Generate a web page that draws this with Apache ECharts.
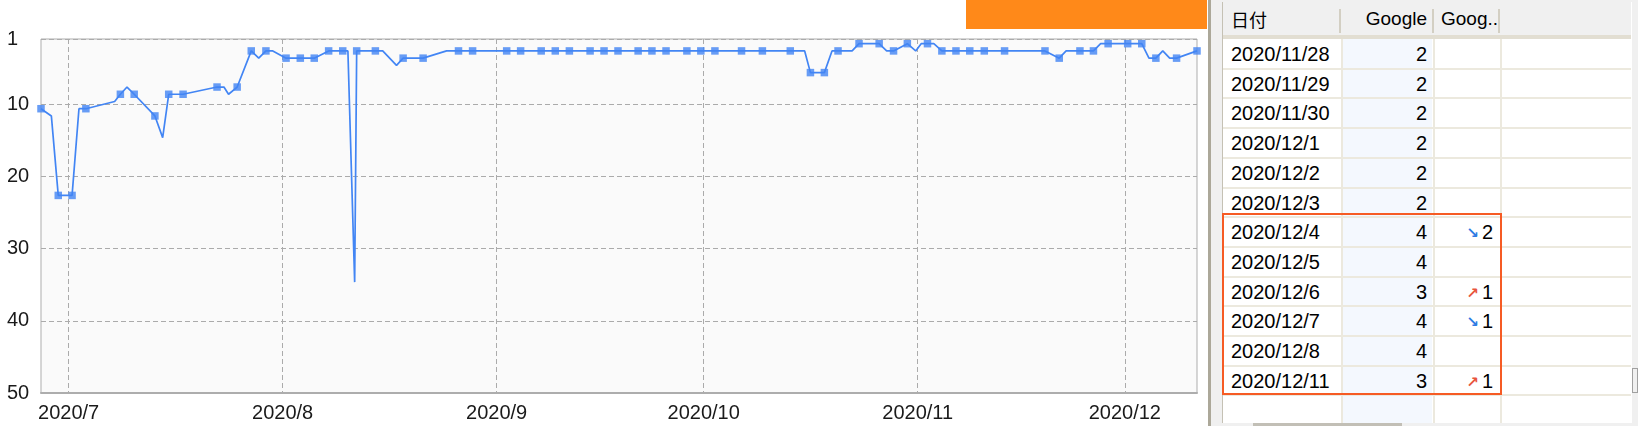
<!DOCTYPE html>
<html><head><meta charset="utf-8">
<script src="https://cdn.jsdelivr.net/npm/echarts@6/dist/echarts.min.js"></script>
<style>
html,body{margin:0;padding:0;background:#fff;width:1638px;height:426px;overflow:hidden;font-family:"Liberation Sans",Arial,sans-serif;}
#chart{position:absolute;left:0;top:0;width:1208px;height:426px;}
.abs{position:absolute;}
</style></head><body>
<div id="chart"></div>
<div id="side"></div>
<script>
// ---- chart data (rank per check time; default check time 12:00) ----
const dates = [
 '2020-06-27 00:00','2020-06-28','2020-06-29','2020-07-01','2020-07-02','2020-07-03','2020-07-07 16:00','2020-07-08',
 '2020-07-09 11:00','2020-07-10','2020-07-13','2020-07-14 15:00','2020-07-15','2020-07-17 14:00','2020-07-22','2020-07-23',
 '2020-07-24 04:00','2020-07-25 10:00','2020-07-27 11:00','2020-07-28 13:00','2020-07-29 14:00','2020-07-30 14:00','2020-08-01',
 '2020-08-03 13:30','2020-08-05 14:00','2020-08-07 16:00','2020-08-09 17:00','2020-08-10 11:00','2020-08-11 10:30','2020-08-11 17:30',
 '2020-08-14 10:30','2020-08-15','2020-08-17','2020-08-18 11:00','2020-08-21 08:30','2020-08-24 18:00','2020-08-26 11:30','2020-08-28 12:30',
 '2020-09-02 11:00','2020-09-04 11:30','2020-09-07 11:00','2020-09-09','2020-09-11 13:00','2020-09-14 13:00','2020-09-16 13:30',
 '2020-09-18 14:00','2020-09-21','2020-09-23','2020-09-25 13:00','2020-09-28 13:30','2020-09-30 14:00','2020-10-02 15:00',
 '2020-10-06 11:30','2020-10-09','2020-10-13 13:00','2020-10-15 15:00','2020-10-16 11:00','2020-10-18 11:30','2020-10-19 14:00',
 '2020-10-20 11:00','2020-10-22','2020-10-23','2020-10-26 10:00','2020-10-27','2020-10-28','2020-10-30','2020-10-31 17:00',
 '2020-11-01','2020-11-02 10:00','2020-11-03 08:00','2020-11-04','2020-11-06 13:00','2020-11-08 13:00','2020-11-10 15:30',
 '2020-11-13 14:00','2020-11-19 10:30','2020-11-21','2020-11-22','2020-11-24','2020-11-26 11:00','2020-11-27','2020-11-28 14:00',
 '2020-11-29','2020-11-30','2020-12-01 10:00','2020-12-02','2020-12-03 11:00','2020-12-04','2020-12-05','2020-12-06','2020-12-07',
 '2020-12-08','2020-12-11 11:00'
];
const ranks = [
 11,12,23,23,11,11,10,9,
 8,9,12,15,9,9,8,8,
 9,8,3,4,3,3,4,
 4,4,3,3,3,35,3,
 3,3,5,4,4,3,3,3,
 3,3,3,3,3,3,3,
 3,3,3,3,3,3,3,
 3,3,3,3,6,6,3,
 3,3,2,2,3,3,2,3,
 2,2,2,3,3,3,3,
 3,3,4,3,3,3,2,2,
 2,2,2,2,2,4,4,3,4,
 4,3
];
// check times that are drawn with a square marker
const markedDates = [
 '2020-06-27 00:00','2020-06-29','2020-07-01','2020-07-03','2020-07-08','2020-07-10','2020-07-13','2020-07-15','2020-07-17 14:00',
 '2020-07-22','2020-07-25 10:00','2020-07-27 11:00','2020-07-29 14:00','2020-08-01','2020-08-03 13:30','2020-08-05 14:00',
 '2020-08-07 16:00','2020-08-09 17:00','2020-08-11 17:30','2020-08-14 10:30','2020-08-18 11:00','2020-08-21 08:30',
 '2020-08-26 11:30','2020-08-28 12:30','2020-09-02 11:00','2020-09-04 11:30','2020-09-07 11:00','2020-09-09','2020-09-11 13:00',
 '2020-09-14 13:00','2020-09-16 13:30','2020-09-18 14:00','2020-09-21','2020-09-23','2020-09-25 13:00','2020-09-28 13:30',
 '2020-09-30 14:00','2020-10-02 15:00','2020-10-06 11:30','2020-10-09','2020-10-13 13:00','2020-10-16 11:00','2020-10-18 11:30',
 '2020-10-20 11:00','2020-10-23','2020-10-26 10:00','2020-10-28','2020-10-30','2020-11-02 10:00','2020-11-04','2020-11-06 13:00',
 '2020-11-08 13:00','2020-11-10 15:30','2020-11-13 14:00','2020-11-19 10:30','2020-11-21','2020-11-24','2020-11-26 11:00',
 '2020-11-28 14:00','2020-12-01 10:00','2020-12-03 11:00','2020-12-05','2020-12-08','2020-12-11 11:00'
];
const monthTicks = ['2020-07-01 00:00','2020-08-01 00:00','2020-09-01 00:00','2020-10-01 00:00','2020-11-01 00:00','2020-12-01 00:00'];
const rankTicks = [1,10,20,30,40,50];

// ---- table data ----
const headers = ['日付','Google','Goog..'];
const tableDates = ['2020/11/28','2020/11/29','2020/11/30','2020/12/1','2020/12/2','2020/12/3','2020/12/4','2020/12/5','2020/12/6','2020/12/7','2020/12/8','2020/12/11'];
const tableRanks = [2,2,2,2,2,2,4,4,3,4,4,3];
const tableChangeDir = ['','','','','','','down','','up','down','','up'];
const tableChange = ['','','','','','','2','','1','1','','1'];

function toTime(s){
  const p = s.split(' ');
  const d = p[0].split('-').map(Number);
  let h = 12, m = 0;
  if (p[1]) { const t = p[1].split(':').map(Number); h = t[0]; m = t[1]; }
  return Date.UTC(d[0], d[1]-1, d[2], h, m);
}
const lineData = dates.map((d,i)=>[toTime(d), ranks[i]]);
const markerData = dates.map((d,i)=>[d,i]).filter(x=>markedDates.includes(x[0])).map(x=>[toTime(x[0]), ranks[x[1]]]);
const monthTimes = monthTicks.map(toTime);

const LABEL = {color:'#1a1a1a', fontSize:20, fontFamily:'Liberation Sans, Arial, sans-serif'};
const chart = echarts.init(document.getElementById('chart'), null, {renderer:'canvas'});
chart.setOption({
  animation:false,
  backgroundColor:'#ffffff',
  grid:{left:41, top:39, width:1156, height:354, show:true, backgroundColor:'#FAFAFA', borderColor:'#ADADAD', borderWidth:1},
  xAxis:{
    type:'value', min:toTime(dates[0]), max:toTime(dates[dates.length-1]),
    axisLine:{show:true, onZero:false, lineStyle:{color:'#ADADAD', width:2}},
    axisTick:{show:false, customValues:monthTimes},
    axisLabel:Object.assign({customValues:monthTimes, margin:10, formatter:v=>{const d=new Date(v);return d.getUTCFullYear()+'/'+(d.getUTCMonth()+1);}}, LABEL),
    splitLine:{show:true, lineStyle:{color:'#ABABAB', width:1, type:[5,3]}}
  },
  yAxis:[
    {type:'value', inverse:true, min:1, max:50,
     axisLine:{show:false}, axisTick:{show:false, customValues:rankTicks},
     axisLabel:Object.assign({customValues:rankTicks, align:'left', margin:34}, LABEL),
     splitLine:{show:true, lineStyle:{color:'#ABABAB', width:1, type:[5,3]}}},
    {type:'value', inverse:true, min:1.35, max:50.35, show:false}
  ],
  series:[
    {type:'line', data:lineData, yAxisIndex:1, showSymbol:false, symbol:'none',
     lineStyle:{color:'#4285F4', width:1.7}, z:2},
    {type:'scatter', data:markerData, yAxisIndex:1, symbol:'rect', symbolSize:7.5, clip:false,
     itemStyle:{color:'#4285F4'}, z:3}
  ]
});

// ---- side panel / table ----
const side = document.getElementById('side');
function el(css, html){ const d=document.createElement('div'); d.className='abs'; d.style.cssText=css; if(html!==undefined) d.innerHTML=html; side.appendChild(d); return d; }
el('left:966px;top:0;width:241px;height:29px;background:#FF8919;');
el('left:1208px;top:0;width:3px;height:426px;background:#ACA899;');
el('left:1211px;top:0;width:427px;height:426px;background:#F0F0F0;');
el('left:1222px;top:2px;width:409px;height:421px;background:#fff;border-left:1px solid #C5C1B4;');
// header
el('left:1223px;top:2px;width:408px;height:33px;background:#F0F0F0;');
el('left:1223px;top:35px;width:408px;height:4px;background:#E2DED2;');
[1339,1432,1498].forEach(x=>el('left:'+x+'px;top:9px;width:2px;height:24px;background:#D3CFC3;'));
const hdrTop = 7;
el('left:1231px;top:'+hdrTop+'px;font-size:18px;line-height:24px;font-family:\'Noto Sans CJK JP\',sans-serif;color:#000;', headers[0]);
el('left:1339px;width:88px;text-align:right;top:'+hdrTop+'px;font-size:19px;line-height:24px;color:#000;', headers[1]);
el('left:1441px;top:'+hdrTop+'px;font-size:19px;line-height:24px;color:#000;', headers[2]);
// body
const rowTop = 39, rowH = 29.7;
el('left:1342px;top:39px;width:90px;height:384px;background:#F4F8FE;');
[1341,1432.5,1500].forEach(x=>el('left:'+x+'px;top:39px;width:2px;height:384px;background:#ECE9DE;'));
for (let k=1;k<=tableDates.length;k++) el('left:1223px;top:'+(rowTop+k*rowH-1)+'px;width:408px;height:2px;background:#ECE9DE;');
tableDates.forEach((d,i)=>{
  const top = rowTop + i*rowH + 3;
  el('left:1231px;top:'+top+'px;font-size:20px;line-height:24px;color:#000;white-space:nowrap;', d);
  el('left:1342px;width:85px;text-align:right;top:'+top+'px;font-size:20px;line-height:24px;color:#000;', String(tableRanks[i]));
  if (tableChange[i]) {
    const up = tableChangeDir[i]==='up';
    const arrow = '<span style="font-family:\'DejaVu Sans\';font-size:15px;font-weight:bold;color:'+(up?'#E8553C':'#2F7BE3')+';vertical-align:1px;margin-right:3px">'+(up?'↗':'↘')+'</span>';
    el('left:1434px;width:59px;text-align:right;top:'+top+'px;font-size:20px;line-height:24px;color:#000;white-space:nowrap;', arrow+tableChange[i]);
  }
});
el('left:1222px;top:213px;width:280px;height:182px;border:2px solid #F65B24;box-sizing:border-box;');
el('left:1223px;top:423px;width:408px;height:3px;background:#F0F0F0;');
el('left:1253px;top:423px;width:149px;height:3px;background:#C2BFB6;');
el('left:1632px;top:368px;width:6px;height:25px;border:1px solid #A0A0A0;box-sizing:border-box;background:#F0F0F0;');
</script>
</body></html>
